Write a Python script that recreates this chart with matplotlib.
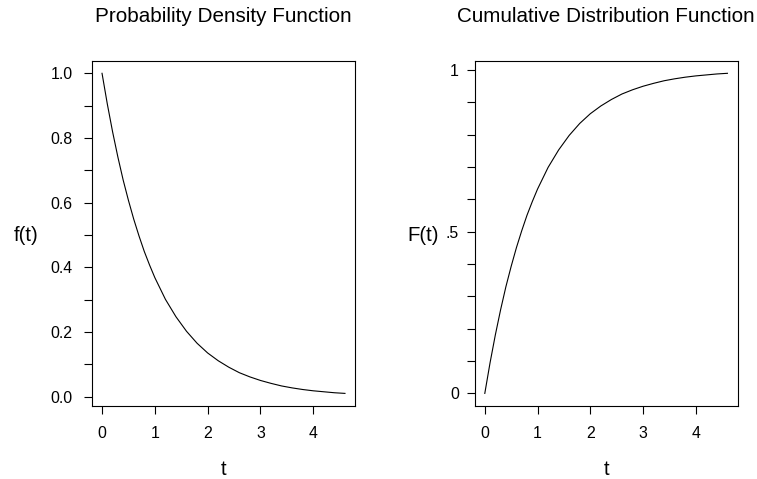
import matplotlib
matplotlib.use("Agg")
import matplotlib.pyplot as plt

plt.rcParams["font.family"] = ["Liberation Sans", "DejaVu Sans"]
plt.rcParams["font.size"] = 11.4

# values (exponential with rate 1)
t = [0.0, 0.1, 0.2, 0.3, 0.4, 0.5, 0.6, 0.7, 0.8, 0.9, 1.0, 1.2, 1.4, 1.6,
     1.8, 2.0, 2.2, 2.4, 2.6, 2.8, 3.0, 3.2, 3.4, 3.6, 3.8, 4.0, 4.2, 4.4, 4.6]
pdf = [1.000, 0.905, 0.819, 0.741, 0.670, 0.607, 0.549, 0.497, 0.449, 0.407,
       0.368, 0.301, 0.247, 0.202, 0.165, 0.135, 0.111, 0.091, 0.074, 0.061,
       0.050, 0.041, 0.033, 0.027, 0.022, 0.018, 0.015, 0.012, 0.010]
cdf = [0.000, 0.095, 0.181, 0.259, 0.330, 0.393, 0.451, 0.503, 0.551, 0.593,
       0.632, 0.699, 0.753, 0.798, 0.835, 0.865, 0.889, 0.909, 0.926, 0.939,
       0.950, 0.959, 0.967, 0.973, 0.978, 0.982, 0.985, 0.988, 0.990]

x_ticks = [0, 1, 2, 3, 4]
pdf_ticks = [0.0, 0.2, 0.4, 0.6, 0.8, 1.0]
pdf_labels = ["0.0", "0.2", "0.4", "0.6", "0.8", "1.0"]
cdf_ticks = [0, 0.5, 1]
cdf_labels = ["0", ".5", "1"]

W, H = 757, 479
fig = plt.figure(figsize=(W / 100, H / 100), dpi=100)

ax1 = fig.add_axes([92 / W, (H - 406) / H, 263 / W, 345.3 / H])
ax2 = fig.add_axes([475.3 / W, (H - 406) / H, 262.7 / W, 345.3 / H])

ax1.plot(t, pdf, color="black", lw=0.8)
ax2.plot(t, cdf, color="black", lw=0.8)

ax1.set_xlim(-0.19, 4.79)
ax1.set_ylim(-0.029, 1.039)
ax2.set_xlim(-0.18, 4.8)
ax2.set_ylim(-0.039, 1.029)

ax1.set_yticks(pdf_ticks)
ax1.set_yticklabels(pdf_labels)
ax1.set_yticks([0.1, 0.3, 0.5, 0.7, 0.9], minor=True)
ax2.set_yticks(cdf_ticks)
ax2.set_yticklabels(cdf_labels)
ax2.set_yticks([0.1, 0.2, 0.3, 0.4, 0.6, 0.7, 0.8, 0.9], minor=True)

for ax in (ax1, ax2):
    ax.set_xticks(x_ticks)
    for s in ax.spines.values():
        s.set_linewidth(0.8)
    ax.tick_params(which="both", direction="out", length=6, width=0.8)
    ax.tick_params(axis="x", pad=8.6)
    ax.set_xlabel("t", fontsize=14.7, va="center")
    ax.xaxis.set_label_coords(0.5, -0.185)

ax1.tick_params(axis="y", which="both", pad=8)
ax2.tick_params(axis="y", which="both", pad=5.8)

ax1.set_ylabel("f(t)", rotation=0, fontsize=14.7, va="center", ha="center")
ax1.yaxis.set_label_coords(-0.252, 0.495)
ax2.set_ylabel("F(t)", rotation=0, fontsize=14.7, va="center", ha="center")
ax2.yaxis.set_label_coords(-0.199, 0.495)

fig.text(223 / W, 1 - 22 / H, "Probability Density Function",
         ha="center", va="baseline", fontsize=14.9)
fig.text(606 / W, 1 - 22 / H, "Cumulative Distribution Function",
         ha="center", va="baseline", fontsize=14.9)

fig.savefig("out.png", dpi=100)
